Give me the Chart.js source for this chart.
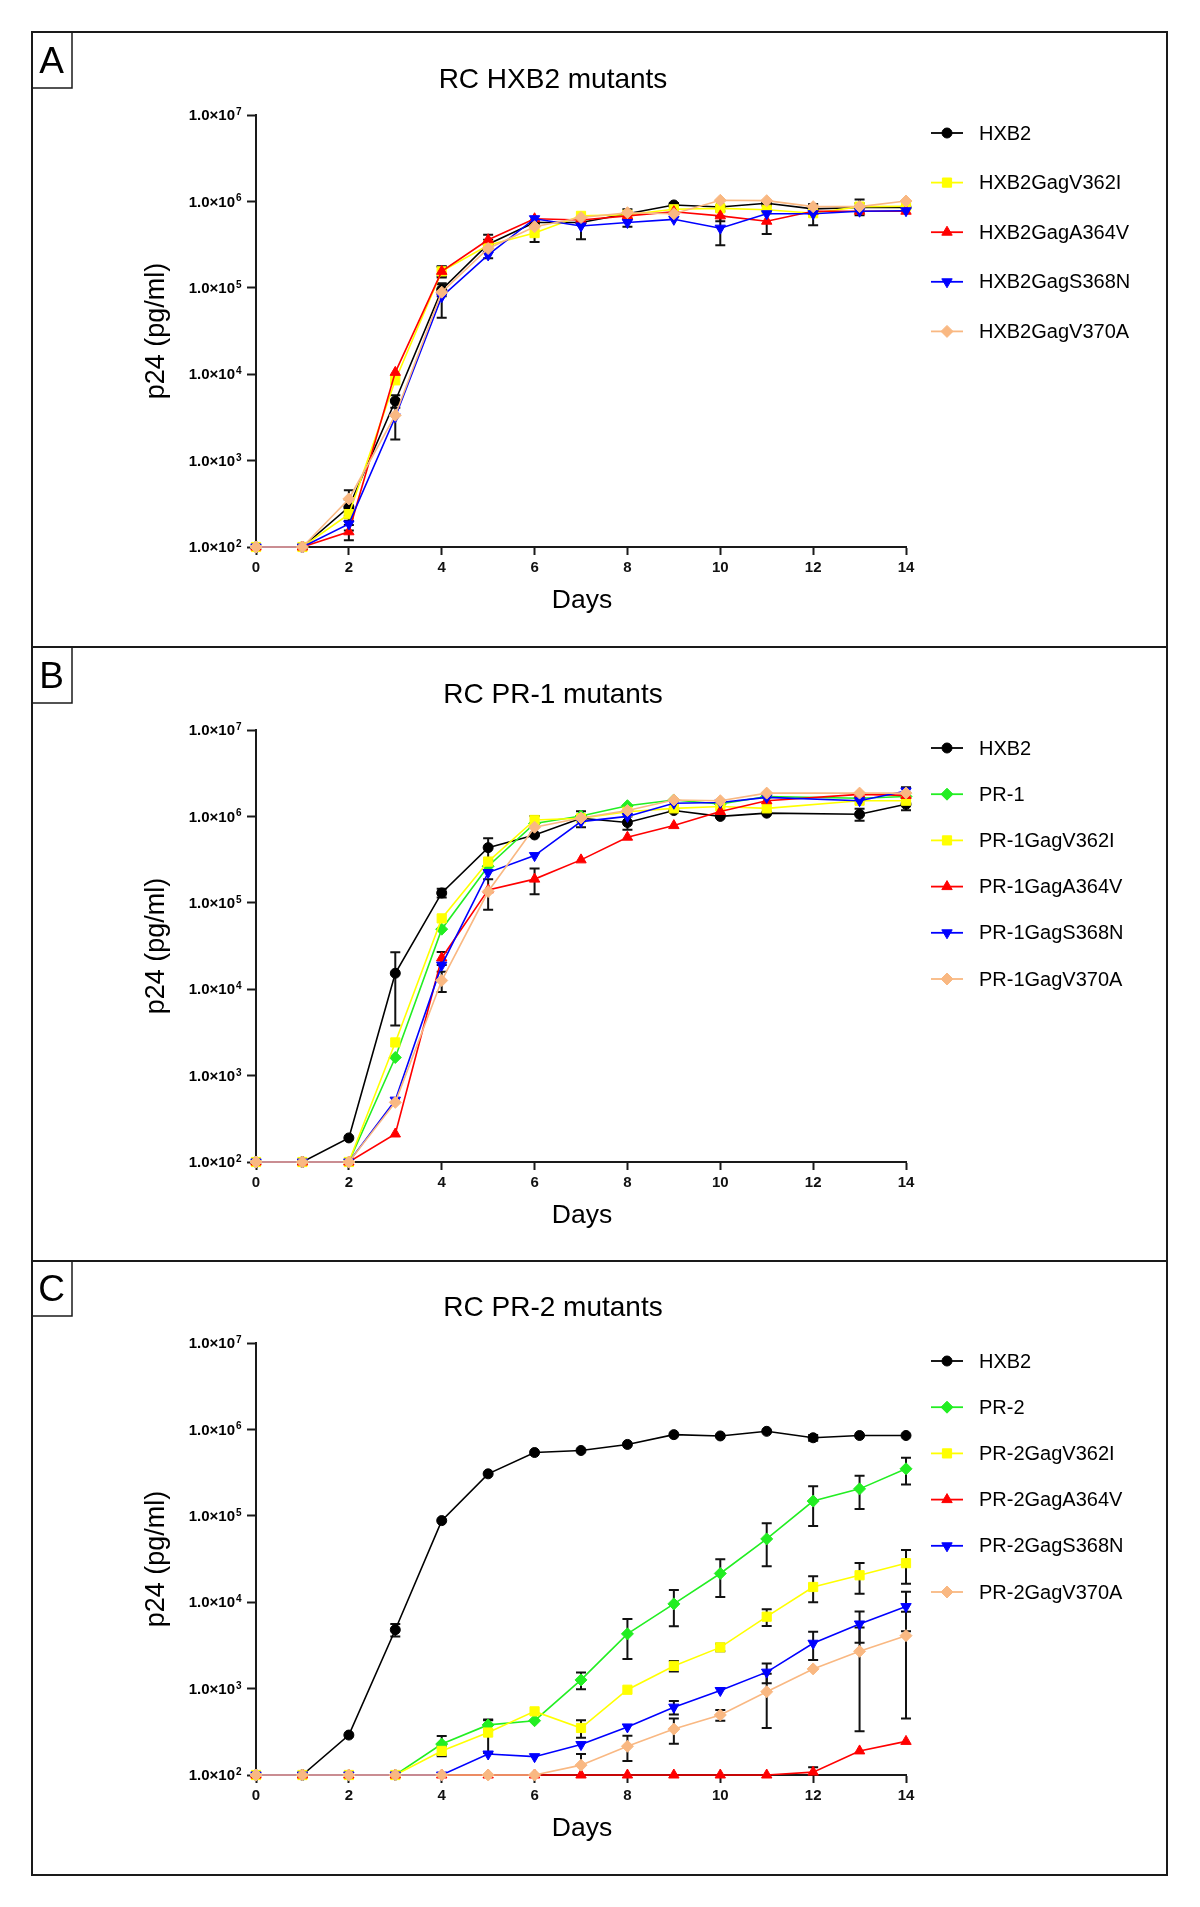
<!DOCTYPE html>
<html>
<head>
<meta charset="utf-8">
<title>RC mutants</title>
<script src="https://cdn.jsdelivr.net/npm/chart.js@4.4.1/dist/chart.umd.min.js"></script>
<style>
  body { margin: 0; background: #fff; }
  #page { position: relative; width: 1200px; height: 1907px; background: #fff; }
  .frame { position: absolute; left: 31px; top: 31px; width: 1137px; height: 1845px; border: 2px solid #1a1a1a; box-sizing: border-box; }
  .sep { position: absolute; left: 31px; width: 1137px; height: 2px; background: #1a1a1a; }
  .panel { position: absolute; left: 33px; width: 1133px; height: 612px; }
</style>
</head>
<body>
<div id="page">
  <div class="frame"></div>
  <div class="sep" style="top:646px"></div>
  <div class="sep" style="top:1260px"></div>
  <div class="panel" style="top:33px"><canvas id="chartA" width="1133" height="612"></canvas></div>
  <div class="panel" style="top:648px"><canvas id="chartB" width="1133" height="612"></canvas></div>
  <div class="panel" style="top:1261px"><canvas id="chartC" width="1133" height="612"></canvas></div>
</div>
<script>
// Data (p24 pg/ml, mean and SD)
var yTicks = [1e2, 1e3, 1e4, 1e5, 1e6, 1e7];

// Panel A - RC HXB2 mutants
var daysA = [0, 1, 2, 3, 4, 5, 6, 7, 8, 9, 10, 11, 12, 13, 14];
var labelsA = ["HXB2", "HXB2GagV362I", "HXB2GagA364V", "HXB2GagS368N", "HXB2GagV370A"];
var hxb2A  = [100, 100, 290, 4900, 95000, 320000, 570000, 570000, 720000, 910000, 860000, 950000, 820000, 850000, 850000];
var v362iA = [100, 100, 240, 8500, 155000, 310000, 430000, 680000, 700000, 810000, 830000, 800000, 730000, 870000, 880000];
var a364vA = [100, 100, 150, 10500, 155000, 360000, 630000, 610000, 680000, 760000, 680000, 590000, 770000, 770000, 770000];
var s368nA = [100, 100, 185, 3200, 79000, 240000, 630000, 520000, 570000, 620000, 490000, 720000, 720000, 770000, 780000];
var v370aA = [100, 100, 360, 3350, 89000, 285000, 510000, 650000, 740000, 720000, 1030000, 1020000, 870000, 870000, 1010000];
var hxb2AErr  = [0, 0, 60, 800, 15000, 40000, 0, 0, 90000, 50000, 0, 60000, 0, 100000, 0];
var v362iAErr = [0, 0, 40, 0, 20000, 0, 90000, 0, 0, 0, 0, 0, 200000, 0, 0];
var a364vAErr = [0, 0, 30, 0, 23000, 50000, 0, 0, 0, 0, 90000, 170000, 0, 0, 0];
var s368nAErr = [0, 0, 30, 0, 34000, 20000, 0, 155000, 60000, 0, 180000, 0, 0, 0, 0];
var v370aAErr = [0, 0, 95, 1600, 0, 0, 0, 0, 0, 0, 0, 0, 0, 180000, 0];

// Panel B - RC PR-1 mutants (no day 12 sample)
var daysB = [0, 1, 2, 3, 4, 5, 6, 7, 8, 9, 10, 11, 13, 14];
var labelsB = ["HXB2", "PR-1", "PR-1GagV362I", "PR-1GagA364V", "PR-1GagS368N", "PR-1GagV370A"];
var hxb2B  = [100, 100, 190, 15300, 130000, 435000, 610000, 950000, 850000, 1170000, 1000000, 1090000, 1060000, 1380000];
var pr1B   = [100, 100, 100, 1620, 49500, 265000, 830000, 1010000, 1330000, 1550000, 1390000, 1700000, 1620000, 1700000];
var v362iB = [100, 100, 100, 2420, 66000, 300000, 910000, 950000, 1130000, 1240000, 1300000, 1240000, 1520000, 1520000];
var a364vB = [100, 100, 100, 211, 23000, 141000, 188000, 314000, 575000, 783000, 1140000, 1520000, 1800000, 1750000];
var s368nB = [100, 100, 100, 520, 19000, 224000, 352000, 870000, 1000000, 1420000, 1450000, 1660000, 1520000, 1970000];
var v370aB = [100, 100, 100, 490, 12600, 135000, 750000, 960000, 1170000, 1550000, 1520000, 1860000, 1860000, 1860000];
var hxb2BErr  = [0, 0, 0, 11500, 15000, 125000, 0, 200000, 150000, 0, 0, 0, 170000, 200000];
var pr1BErr   = [0, 0, 0, 0, 0, 0, 0, 0, 0, 0, 0, 0, 0, 0];
var v362iBErr = [0, 0, 0, 0, 0, 0, 100000, 0, 0, 0, 0, 0, 0, 0];
var a364vBErr = [0, 0, 0, 0, 4000, 0, 62000, 0, 0, 0, 0, 0, 0, 0];
var s368nBErr = [0, 0, 0, 0, 0, 0, 0, 0, 0, 0, 0, 0, 0, 200000];
var v370aBErr = [0, 0, 0, 0, 3300, 52000, 0, 0, 0, 0, 0, 0, 0, 0];

// Panel C - RC PR-2 mutants
var daysC = [0, 1, 2, 3, 4, 5, 6, 7, 8, 9, 10, 11, 12, 13, 14];
var labelsC = ["HXB2", "PR-2", "PR-2GagV362I", "PR-2GagA364V", "PR-2GagS368N", "PR-2GagV370A"];
var hxb2C  = [100, 100, 290, 4800, 88000, 306000, 540000, 570000, 670000, 870000, 840000, 950000, 800000, 850000, 850000];
var pr2C   = [100, 100, 100, 100, 228, 380, 425, 1260, 4300, 9560, 21500, 54000, 148000, 205000, 350000];
var v362iC = [100, 100, 100, 100, 190, 310, 545, 350, 970, 1830, 3000, 6800, 15000, 20500, 28300];
var a364vC = [100, 100, 100, 100, 100, 100, 100, 100, 100, 100, 100, 100, 108, 190, 245];
var s368nC = [100, 100, 100, 100, 100, 175, 163, 225, 360, 610, 950, 1550, 3350, 5600, 8900];
var v370aC = [100, 100, 100, 100, 100, 100, 100, 130, 215, 340, 495, 920, 1690, 2700, 4100];
var hxb2CErr  = [0, 0, 0, 800, 0, 0, 0, 0, 0, 0, 0, 0, 60000, 0, 0];
var pr2CErr   = [0, 0, 0, 0, 55, 50, 0, 280, 2100, 4300, 10000, 28000, 72000, 85000, 120000];
var v362iCErr = [0, 0, 0, 0, 25, 130, 0, 80, 0, 250, 300, 1500, 5000, 8000, 12000];
var a364vCErr = [0, 0, 0, 0, 0, 0, 0, 0, 0, 0, 0, 0, 15, 0, 0];
var s368nCErr = [0, 0, 0, 0, 0, 0, 0, 0, 0, 110, 0, 400, 1200, 2200, 4300];
var v370aCErr = [0, 0, 0, 0, 0, 0, 0, 45, 70, 110, 70, 570, 0, 2380, 3650];

// Series styles
var FONT = "'Liberation Sans', Arial, Helvetica, sans-serif";
var styles = {
  hxb2:  { color: "#000000", pointStyle: "circle",   radius: 5,   rotation: 0 },
  pr:    { color: "#22EE22", pointStyle: "rectRot",  radius: 6,   rotation: 0 },
  v362i: { color: "#FFFF00", pointStyle: "rect",     radius: 6.5, rotation: 0 },
  a364v: { color: "#FF0000", pointStyle: "triangle", radius: 6,   rotation: 0 },
  s368n: { color: "#0000FF", pointStyle: "triangle", radius: 6,   rotation: 180 },
  v370a: { color: "#F9B882", pointStyle: "rectRot",  radius: 6,   rotation: 0 }
};

function makeDataset(label, days, values, errors, style) {
  return {
    label: label,
    data: days.map(function (d, i) { return { x: d, y: values[i] }; }),
    errors: errors,
    borderColor: style.color,
    backgroundColor: style.color,
    borderWidth: 1.6,
    pointStyle: style.pointStyle,
    pointRadius: style.radius,
    pointHoverRadius: style.radius,
    pointRotation: style.rotation,
    pointBackgroundColor: style.color,
    pointBorderColor: style.color,
    pointBorderWidth: 1,
    tension: 0,
    clip: false
  };
}

function drawMarker(ctx, style, x, y) {
  ctx.fillStyle = style.color;
  ctx.strokeStyle = style.color;
  ctx.lineWidth = 1;
  if (Chart.helpers && Chart.helpers.drawPoint) {
    Chart.helpers.drawPoint(ctx, { pointStyle: style.pointStyle, radius: style.radius, rotation: style.rotation, borderWidth: 1 }, x, y);
    return;
  }
  ctx.beginPath();
  ctx.arc(x, y, style.radius, 0, Math.PI * 2);
  ctx.fill();
}

// Error bars, titles, legend and panel letters
var decorPlugin = {
  id: "panelDecor",
  beforeDatasetsDraw: function (chart) {
    var ctx = chart.ctx;
    var ys = chart.scales.y;
    ctx.save();
    ctx.strokeStyle = "#111";
    ctx.lineWidth = 2;
    chart.data.datasets.forEach(function (ds, di) {
      var meta = chart.getDatasetMeta(di);
      ds.data.forEach(function (p, i) {
        var e = ds.errors[i];
        if (!e) return;
        var x = meta.data[i].x;
        var top = ys.getPixelForValue(p.y + e);
        var bot = p.y - e > 0 ? ys.getPixelForValue(p.y - e) : chart.chartArea.bottom;
        bot = Math.min(bot, chart.chartArea.bottom);
        ctx.beginPath();
        ctx.moveTo(x, top); ctx.lineTo(x, bot);
        ctx.moveTo(x - 5, top); ctx.lineTo(x + 5, top);
        ctx.moveTo(x - 5, bot); ctx.lineTo(x + 5, bot);
        ctx.stroke();
      });
    });
    ctx.restore();
  },
  afterDraw: function (chart, args, opts) {
    var ctx = chart.ctx;
    var area = chart.chartArea;
    var ys = chart.scales.y;
    ctx.save();
    ctx.fillStyle = "#000";

    // y tick labels 1.0x10^n
    ys.ticks.forEach(function (t) {
      var py = ys.getPixelForValue(t.value);
      var exp = Math.round(Math.log10(t.value));
      ctx.font = "bold 15px " + FONT;
      ctx.textAlign = "right";
      ctx.textBaseline = "middle";
      ctx.fillText("1.0\u00d710", area.left - 21, py + 1);
      ctx.font = "bold 10px " + FONT;
      ctx.textAlign = "left";
      ctx.textBaseline = "alphabetic";
      ctx.fillText(String(exp), area.left - 20, py);
    });

    // title
    ctx.font = "28px " + FONT;
    ctx.textAlign = "center";
    ctx.textBaseline = "alphabetic";
    ctx.fillText(opts.title, 520, 55);

    // axis titles
    ctx.font = "26.5px " + FONT;
    ctx.fillText("Days", 549, 575);
    ctx.save();
    ctx.translate(124, (area.top + area.bottom) / 2);
    ctx.rotate(-Math.PI / 2);
    ctx.textBaseline = "middle";
    ctx.font = "27px " + FONT;
    ctx.fillText("p24 (pg/ml)", 0, 0);
    ctx.restore();

    // panel letter box
    ctx.strokeStyle = "#1a1a1a";
    ctx.lineWidth = 1.5;
    ctx.strokeRect(-1, -1, 40, 56);
    ctx.font = "37px " + FONT;
    ctx.textBaseline = "middle";
    ctx.fillText(opts.letter, 18.5, 30);

    // legend
    chart.data.datasets.forEach(function (ds, i) {
      var y = opts.legendTop + i * opts.legendGap;
      var st = opts.styles[i];
      ctx.strokeStyle = st.color;
      ctx.lineWidth = 1.8;
      ctx.beginPath();
      ctx.moveTo(898, y); ctx.lineTo(930, y);
      ctx.stroke();
      drawMarker(ctx, st, 914, y);
      ctx.fillStyle = "#000";
      ctx.font = "20px " + FONT;
      ctx.textAlign = "left";
      ctx.textBaseline = "middle";
      ctx.fillText(ds.label, 946, y + 1);
    });
    ctx.restore();
  }
};

function makeChart(id, letter, title, datasets, panelStyles, legendGap) {
  var n = datasets.length;
  datasets.forEach(function (ds, i) { ds.order = n - i; });
  return new Chart(document.getElementById(id).getContext("2d"), {
    type: "line",
    data: { datasets: datasets },
    options: {
      responsive: false,
      animation: false,
      events: [],
      layout: { padding: { left: 0, top: 82, right: 260, bottom: 0 } },
      scales: {
        x: {
          type: "linear",
          min: 0,
          max: 14,
          ticks: { stepSize: 2, color: "#111", padding: 4, maxRotation: 0, font: { family: FONT, size: 15, weight: "bold" } },
          grid: { display: true, drawOnChartArea: false, drawTicks: true, tickLength: 8, tickWidth: 2, tickColor: "#1a1a1a" },
          border: { display: true, color: "#1a1a1a", width: 2 },
          afterFit: function (scale) { scale.height = 98; }
        },
        y: {
          type: "logarithmic",
          min: 100,
          max: 1e7,
          ticks: { display: false },
          afterBuildTicks: function (scale) {
            scale.ticks = yTicks.map(function (v) { return { value: v }; });
          },
          grid: { display: true, drawOnChartArea: false, drawTicks: true, tickLength: 9, tickWidth: 2, tickColor: "#1a1a1a" },
          border: { display: true, color: "#1a1a1a", width: 2 },
          afterFit: function (scale) { scale.width = 223; }
        }
      },
      plugins: {
        legend: { display: false },
        tooltip: { enabled: false },
        panelDecor: { letter: letter, title: title, styles: panelStyles, legendTop: 100, legendGap: legendGap }
      }
    },
    plugins: [decorPlugin]
  });
}

// Panel A
var stylesA = [styles.hxb2, styles.v362i, styles.a364v, styles.s368n, styles.v370a];
var chartA = makeChart("chartA", "A", "RC HXB2 mutants", [
  makeDataset(labelsA[0], daysA, hxb2A, hxb2AErr, stylesA[0]),
  makeDataset(labelsA[1], daysA, v362iA, v362iAErr, stylesA[1]),
  makeDataset(labelsA[2], daysA, a364vA, a364vAErr, stylesA[2]),
  makeDataset(labelsA[3], daysA, s368nA, s368nAErr, stylesA[3]),
  makeDataset(labelsA[4], daysA, v370aA, v370aAErr, stylesA[4])
], stylesA, 49.6);

// Panel B
var stylesB = [styles.hxb2, styles.pr, styles.v362i, styles.a364v, styles.s368n, styles.v370a];
var chartB = makeChart("chartB", "B", "RC PR-1 mutants", [
  makeDataset(labelsB[0], daysB, hxb2B, hxb2BErr, stylesB[0]),
  makeDataset(labelsB[1], daysB, pr1B, pr1BErr, stylesB[1]),
  makeDataset(labelsB[2], daysB, v362iB, v362iBErr, stylesB[2]),
  makeDataset(labelsB[3], daysB, a364vB, a364vBErr, stylesB[3]),
  makeDataset(labelsB[4], daysB, s368nB, s368nBErr, stylesB[4]),
  makeDataset(labelsB[5], daysB, v370aB, v370aBErr, stylesB[5])
], stylesB, 46.2);

// Panel C
var chartC = makeChart("chartC", "C", "RC PR-2 mutants", [
  makeDataset(labelsC[0], daysC, hxb2C, hxb2CErr, stylesB[0]),
  makeDataset(labelsC[1], daysC, pr2C, pr2CErr, stylesB[1]),
  makeDataset(labelsC[2], daysC, v362iC, v362iCErr, stylesB[2]),
  makeDataset(labelsC[3], daysC, a364vC, a364vCErr, stylesB[3]),
  makeDataset(labelsC[4], daysC, s368nC, s368nCErr, stylesB[4]),
  makeDataset(labelsC[5], daysC, v370aC, v370aCErr, stylesB[5])
], stylesB, 46.2);
</script>
</body>
</html>
